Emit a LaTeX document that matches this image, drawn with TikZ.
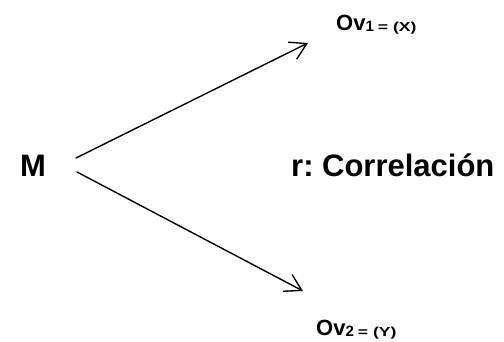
\documentclass[tikz,border=0pt]{standalone}
\usepackage{fontspec}
\setmainfont{Liberation Sans}
\usetikzlibrary{arrows.meta}
\frenchspacing
\newcommand{\subpart}[2]{\raisebox{-1pt}{\fontsize{15}{17}\selectfont #1\hspace{4pt}\fontsize{13}{15}\selectfont\scalebox{1.35}[1]{= (#2)}}}
\begin{document}
\begin{tikzpicture}[x=1pt,y=-1pt,
  lbl/.style={inner sep=0pt, anchor=base west, font=\bfseries},
  conn/.style={line width=1.4pt, line cap=round, -{Straight Barb[length=16pt,width=19pt,line width=1.4pt]}}]
\useasboundingbox (0,0) rectangle (504,342);
\node[lbl, font=\bfseries\fontsize{31}{36}\selectfont] (m) at (20,177) {M};
\node[lbl, font=\bfseries\fontsize{31}{36}\selectfont] (r) at (291,177) {r: Correlación};
\node[lbl, font=\bfseries\fontsize{22}{26}\selectfont] (ov1) at (336,31) {Ov\subpart{1}{X}};
\node[lbl, font=\bfseries\fontsize{22}{26}\selectfont] (ov2) at (316,335) {Ov\subpart{2}{Y}};
\coordinate (s1) at (76,158);
\coordinate (e1) at (308,43);
\coordinate (s2) at (77,172);
\coordinate (e2) at (303,291);
\draw[conn] (s1) -- (e1);
\draw[conn] (s2) -- (e2);
\end{tikzpicture}
\end{document}
